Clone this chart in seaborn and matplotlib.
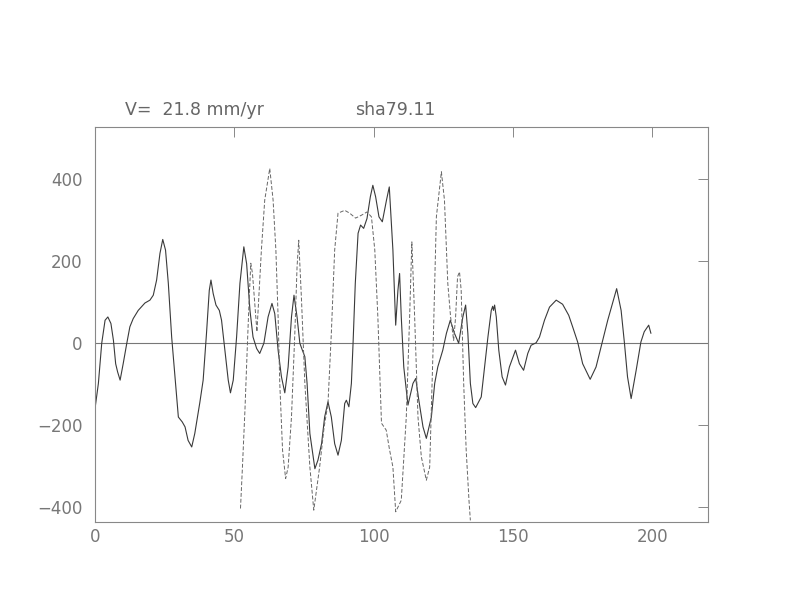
import matplotlib
matplotlib.use("Agg")
import matplotlib.pyplot as plt
import seaborn as sns
import pandas as pd

# solid profile (observed)
solid_x = [0.0, 1.2, 2.4, 3.6, 4.6, 5.7, 6.6, 7.4, 8.1, 9.0, 10.1, 11.4, 12.5, 13.7,
           15.5, 17.9, 19.7, 20.9, 22.1, 23.3, 24.3, 25.3, 26.3, 27.5, 28.7, 29.9,
           31.3, 32.3, 33.4, 34.7, 35.8, 37.6, 38.8, 40.0, 41.0, 41.6, 42.4, 43.4,
           44.6, 45.4, 46.6, 47.8, 48.6, 49.6, 50.8, 52.0, 53.4, 54.4, 54.9, 55.6,
           56.7, 58.0, 59.1, 60.6, 62.1, 63.5, 64.5, 65.7, 66.9, 68.1, 69.3, 70.5,
           71.4, 72.5, 73.5, 74.4, 75.3, 76.1, 77.1, 78.9, 80.0, 81.3, 82.4, 83.6,
           84.8, 86.0, 87.2, 88.4, 89.6, 90.2, 91.1, 92.0, 92.6, 93.4, 94.4, 95.3,
           96.4, 97.6, 98.8, 99.7, 100.7, 101.9, 103.1, 104.6, 105.6, 106.9, 107.9,
           108.7, 109.3, 109.9, 110.8, 112.3, 114.1, 115.1, 116.2, 117.7, 118.9,
           120.7, 121.9, 123.0, 124.8, 126.1, 127.5, 129.0, 130.5, 132.0, 133.0,
           133.8, 134.7, 135.6, 136.6, 138.6, 139.8, 141.0, 142.2, 142.7, 143.0,
           143.4, 144.0, 144.9, 146.1, 147.3, 148.7, 150.9, 152.3, 153.8, 155.3,
           156.5, 158.3, 159.5, 161.3, 163.1, 165.5, 167.8, 170.0, 171.4, 173.2,
           175.0, 177.7, 179.8, 181.6, 184.0, 187.2, 188.8, 190.0, 191.1, 192.4,
           194.2, 195.9, 197.1, 198.7, 199.5]
solid_y = [-159, -98, 0, 56, 64, 48, 7, -50, -70, -90, -50, 0, 40, 60,
           80, 98, 105, 117, 154, 219, 253, 227, 146, 15, -82, -180,
           -192, -204, -237, -253, -220, -145, -90, 24, 129, 154, 121, 93,
           80, 56, -17, -90, -121, -90, 15, 146, 235, 194, 146, 80,
           15, -13, -25, 0, 64, 97, 72, -17, -82, -121, -58, 64,
           117, 64, 0, -17, -33, -98, -220, -306, -285, -245, -180, -143,
           -180, -245, -273, -237, -147, -139, -155, -98, 0, 146, 268, 288,
           280, 304, 357, 385, 357, 308, 296, 349, 381, 227, 44,
           129, 170, 64, -58, -151, -98, -86, -139, -204, -232,
           -180, -98, -58, -17, 24, 56, 24, 0, 64, 93,
           24, -98, -147, -157, -131, -58, 15, 80, 90, 80,
           93, 64, -17, -82, -102, -58, -17, -50, -66, -25,
           -5, 1, 15, 56, 88, 105, 95, 68, 40, 3,
           -50, -88, -58, -9, 56, 133, 80, 0, -82, -135,
           -66, 3, 28, 44, 24]

# dashed profile (model)
dash_x = [52.2, 52.9, 53.8, 54.6, 55.3, 55.9, 56.5, 58.1, 59.7, 60.9, 62.7, 63.9,
          64.9, 65.7, 66.3, 67.3, 68.4, 69.3, 70.5, 71.7, 72.5, 73.1, 74.1, 75.3,
          77.1, 78.5, 80.6, 82.2, 83.6, 84.8, 86.0, 87.2, 89.6, 91.4, 93.5, 95.6,
          97.6, 99.2, 100.4, 101.5, 102.8, 104.5, 105.7, 106.9, 107.9, 109.9,
          111.7, 112.9, 113.7, 114.7, 115.9, 117.1, 118.9, 120.1, 121.3, 122.5,
          124.3, 125.4, 126.6, 127.6, 128.7, 129.4, 130.1, 130.8, 131.4, 132.3,
          133.2, 134.2, 134.7]
dash_y = [-403, -302, -163, -17, 105, 195, 170, 28, 227, 349, 426, 349,
          227, 64, -98, -261, -330, -302, -180, 24, 186, 251, 105, -98,
          -302, -407, -302, -205, -147, 24, 227, 317, 324, 317, 305, 312,
          320, 308, 227, 64, -195, -212, -260, -302, -411, -383,
          -180, 64, 247, 64, -180, -277, -334, -302, -17, 308,
          418, 349, 146, 64, 7, 64, 162, 174, 129, -98,
          -261, -383, -432]

xticks = [0, 50, 100, 150, 200]
yticks = [-400, -200, 0, 200, 400]

sns.set_style("white")
plt.rcParams["font.family"] = ["DejaVu Sans"]

fig = plt.figure(figsize=(7.92, 6.12), dpi=100)
ax = fig.add_axes([0.12, 0.147, 0.774, 0.6454])

solid_df = pd.DataFrame({"x": solid_x, "y": solid_y})
dash_df = pd.DataFrame({"x": dash_x, "y": dash_y})

ax.axhline(0, color="#777777", lw=0.8, zorder=1)
sns.lineplot(data=solid_df, x="x", y="y", ax=ax, sort=False, estimator=None,
             color="#3a3a3a", lw=0.8)
sns.lineplot(data=dash_df, x="x", y="y", ax=ax, sort=False, estimator=None,
             color="#666666", lw=0.7, dashes=False, linestyle=(0, (4, 2)))

ax.set_xlim(0, 220)
ax.set_ylim(-436, 527)
ax.set_xticks(xticks)
ax.set_yticks(yticks)
ax.set_yticklabels([str(v).replace("-", "\u2212") for v in yticks])
ax.set_xlabel("")
ax.set_ylabel("")

for s in ax.spines.values():
    s.set_color("#888888")
    s.set_linewidth(0.8)
ax.tick_params(direction="in", length=7, width=0.7, color="#888888",
               top=True, right=True, labelsize=12, labelcolor="#777777")
ax.tick_params(axis="x", pad=4)
ax.tick_params(axis="y", pad=9)

fig.text(0.158, 0.82, "V=  21.8 mm/yr", fontsize=12.5, color="#666666", va="center")
fig.text(0.448, 0.82, "sha79.11", fontsize=12.5, color="#666666", va="center")

fig.savefig("out.png", dpi=100, facecolor="white")
